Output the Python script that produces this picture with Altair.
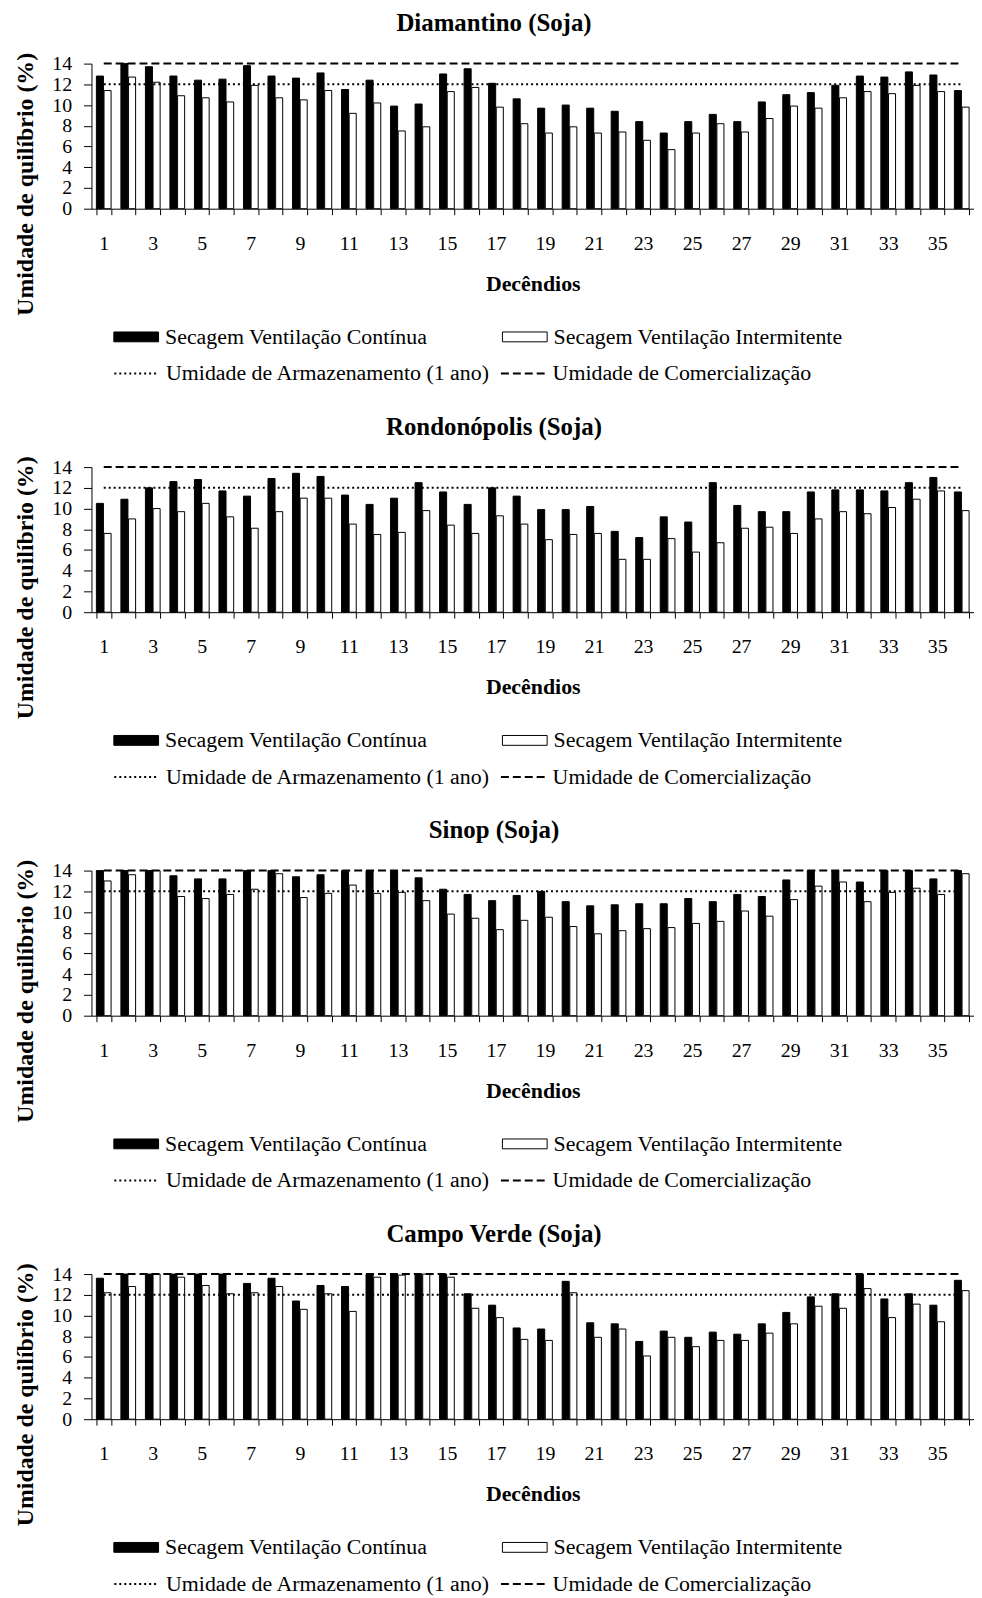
import altair as alt
import pandas as pd

DECENDIOS = [1, 2, 3, 4, 5, 6, 7, 8, 9, 10, 11, 12, 13, 14, 15, 16, 17, 18,
             19, 20, 21, 22, 23, 24, 25, 26, 27, 28, 29, 30, 31, 32, 33, 34, 35, 36]
SERIES = ["Secagem Ventilação Contínua", "Secagem Ventilação Intermitente"]
LINES = ["Umidade de Armazenamento (1 ano)", "Umidade de Comercialização"]
LINE_VALUES = [12, 14]
Y_TICKS = [0, 2, 4, 6, 8, 10, 12, 14]
TITLES = ["Diamantino (Soja)", "Rondonópolis (Soja)", "Sinop (Soja)", "Campo Verde (Soja)"]

DIAM_CONT = [12.8, 14.0, 13.7, 12.8, 12.4, 12.5, 13.8, 12.8, 12.6, 13.1, 11.5, 12.4, 9.9, 10.1, 13.0, 13.5, 12.1, 10.6,
             9.7, 10.0, 9.7, 9.4, 8.4, 7.3, 8.4, 9.1, 8.4, 10.3, 11.0, 11.2, 11.9, 12.8, 12.7, 13.2, 12.9, 11.4]
DIAM_INT = [11.4, 12.7, 12.2, 10.9, 10.7, 10.3, 11.9, 10.7, 10.5, 11.4, 9.2, 10.2, 7.5, 7.9, 11.3, 11.7, 9.8, 8.2,
            7.3, 7.9, 7.3, 7.4, 6.6, 5.7, 7.3, 8.2, 7.4, 8.7, 9.9, 9.7, 10.7, 11.3, 11.1, 11.9, 11.3, 9.8]

RONDO_CONT = [10.5, 10.9, 12.0, 12.6, 12.8, 11.7, 11.2, 12.9, 13.4, 13.1, 11.3, 10.4, 11.0, 12.5, 11.6, 10.4, 12.0, 11.2,
              9.9, 9.9, 10.2, 7.8, 7.2, 9.2, 8.7, 12.5, 10.3, 9.7, 9.7, 11.6, 11.8, 11.8, 11.7, 12.5, 13.0, 11.6]
RONDO_INT = [7.6, 9.0, 10.0, 9.7, 10.5, 9.2, 8.1, 9.7, 11.0, 11.0, 8.5, 7.5, 7.7, 9.8, 8.4, 7.6, 9.3, 8.5,
             7.0, 7.5, 7.6, 5.1, 5.1, 7.1, 5.8, 6.7, 8.1, 8.2, 7.6, 9.0, 9.7, 9.5, 10.1, 10.9, 11.7, 9.8]

SINOP_CONT = [14.0, 14.0, 14.0, 13.5, 13.2, 13.2, 14.0, 14.0, 13.4, 13.6, 14.0, 14.0, 14.0, 13.3, 12.2, 11.7, 11.1, 11.6,
              12.0, 11.0, 10.6, 10.7, 10.8, 10.8, 11.3, 11.0, 11.7, 11.5, 13.1, 14.0, 14.0, 12.9, 14.0, 14.0, 13.2, 14.0]
SINOP_INT = [13.0, 13.6, 14.0, 11.5, 11.3, 11.7, 12.2, 13.7, 11.4, 11.8, 12.6, 11.8, 11.9, 11.1, 9.8, 9.4, 8.3, 9.2,
             9.5, 8.6, 7.9, 8.2, 8.4, 8.5, 8.9, 9.1, 10.1, 9.6, 11.2, 12.5, 12.9, 11.0, 11.9, 12.3, 11.7, 13.7]

CAMPO_CONT = [13.6, 14.0, 14.0, 14.0, 14.0, 14.0, 13.1, 13.6, 11.4, 12.9, 12.8, 14.0, 14.0, 14.0, 14.0, 12.1, 11.0, 8.8,
              8.7, 13.3, 9.3, 9.2, 7.5, 8.5, 7.9, 8.4, 8.2, 9.2, 10.3, 11.8, 12.1, 14.0, 11.6, 12.1, 11.0, 13.4]
CAMPO_INT = [12.2, 12.8, 14.0, 13.7, 12.9, 12.1, 12.2, 12.8, 10.6, 12.1, 10.4, 13.7, 13.9, 14.0, 13.7, 10.7, 9.8, 7.7,
             7.6, 12.2, 7.9, 8.7, 6.1, 7.9, 7.0, 7.6, 7.6, 8.3, 9.2, 10.9, 10.7, 12.6, 9.8, 11.1, 9.4, 12.4]

PANELS = [
    (TITLES[0], DIAM_CONT, DIAM_INT),
    (TITLES[1], RONDO_CONT, RONDO_INT),
    (TITLES[2], SINOP_CONT, SINOP_INT),
    (TITLES[3], CAMPO_CONT, CAMPO_INT),
]

FONT = "Liberation Serif"
RECT_PATH = "M-1,-0.22H1V0.22H-1Z"


def y_axis():
    return alt.Axis(
        title="Umidade de quilíbrio (%)", titleFont=FONT, titleFontSize=24, titleFontWeight="bold",
        titleAngle=270, titleX=-66, titleY=121, titleAlign="center", titleBaseline="middle",
        values=Y_TICKS, tickCount=8, labelFont=FONT, labelFontSize=20, labelOverlap=False,
        tickSize=8, labelPadding=12, grid=False,
        domainColor="black", tickColor="black", labelColor="black", titleColor="black",
    )


def x_axis():
    return alt.Axis(
        title="Decêndios", titleFont=FONT, titleFontSize=22, titleFontWeight="bold",
        titlePadding=20, labelFont=FONT, labelFontSize=20, labelAngle=0,
        labelExpr="datum.value % 2 == 1 ? datum.label : ''",
        tickBand="extent", tickSize=6, labelPadding=19,
        domainColor="black", tickColor="black", labelColor="black", titleColor="black",
    )


def panel(title, cont, inter):
    rows = []
    for d, c, i in zip(DECENDIOS, cont, inter):
        rows.append({"dec": d, "serie": SERIES[0], "valor": c})
        rows.append({"dec": d, "serie": SERIES[1], "valor": i})
    df = pd.DataFrame(rows)
    rdf = pd.DataFrame({
        "linha": LINES,
        "valor": LINE_VALUES,
        "dec": [DECENDIOS[0]] * 2,
        "dec_fim": [DECENDIOS[-1]] * 2,
    })

    xscale = alt.Scale(domain=DECENDIOS, paddingInner=0.4, paddingOuter=0.2)
    yscale = alt.Scale(domain=[0, 14], nice=False)

    bars = alt.Chart(df).mark_bar(stroke="black", strokeWidth=1).encode(
        x=alt.X("dec:O", scale=xscale, axis=x_axis()),
        xOffset=alt.XOffset("serie:N", scale=alt.Scale(domain=SERIES, paddingInner=0.08)),
        y=alt.Y("valor:Q", scale=yscale, axis=y_axis()),
        fill=alt.Fill(
            "serie:N",
            scale=alt.Scale(domain=SERIES, range=["black", "white"]),
            legend=alt.Legend(
                title=None, orient="none", legendX=22, legendY=252, direction="horizontal",
                columns=2, symbolType=RECT_PATH, symbolSize=2025, symbolStrokeColor="black",
                symbolStrokeWidth=1, labelFont=FONT, labelFontSize=22, labelColor="black",
                labelOffset=6, labelLimit=0, columnPadding=73, padding=0,
            ),
        ),
    )
    rules = alt.Chart(rdf).mark_rule(color="black", strokeWidth=2).encode(
        x=alt.X("dec:O", scale=xscale, axis=x_axis()),
        x2=alt.X2("dec_fim"),
        y=alt.Y("valor:Q", scale=yscale, axis=y_axis()),
        strokeDash=alt.StrokeDash(
            "linha:N",
            scale=alt.Scale(domain=LINES, range=[[2, 3], [8, 4]]),
            legend=alt.Legend(
                title=None, orient="none", legendX=22, legendY=288, direction="horizontal",
                columns=2, symbolType="stroke", symbolSize=2025, symbolStrokeColor="black",
                symbolStrokeWidth=2, labelFont=FONT, labelFontSize=22, labelColor="black",
                labelOffset=6, labelLimit=0, columnPadding=6, padding=0,
            ),
        ),
    )
    return alt.layer(bars, rules).resolve_scale(fill="independent", strokeDash="independent").properties(
        width=888, height=146,
        title=alt.TitleParams(title, font=FONT, fontSize=25, fontWeight="bold", color="black",
                              anchor="middle", frame="bounds", offset=16),
    )


charts = [panel(t, c, i) for t, c, i in PANELS]
chart = alt.vconcat(*charts, spacing=30).resolve_scale(
    fill="independent", strokeDash="independent"
).resolve_legend(fill="independent", strokeDash="independent").properties(
    padding={"left": 5, "right": 0, "top": -2, "bottom": 0}
).configure(background="white", font=FONT).configure_view(stroke=None)

chart.save("out.html", embed_options={"renderer": "svg", "actions": False})
